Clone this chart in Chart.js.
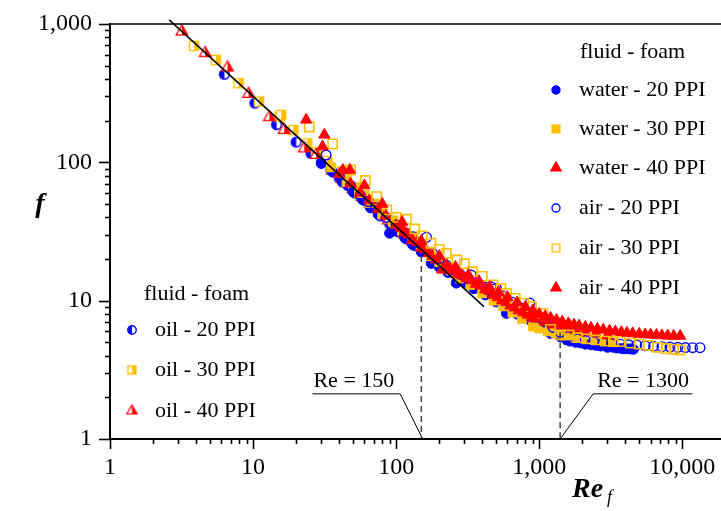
<!DOCTYPE html>
<html><head><meta charset="utf-8">
<script src="https://cdn.jsdelivr.net/npm/chart.js@4/dist/chart.umd.min.js"></script>
<style>html,body{margin:0;padding:0;background:#fff;}canvas{display:block;}</style>
</head><body>
<canvas id="c" width="721" height="511"></canvas>
<script>
// ---------- data (Re_f, f) ----------
const oil20 = [[6.3,433],[10.3,268],[14.6,187],[20,140],[25.4,116],[30,100],[35,88],[40,77],[46,68],[52,60],[60,53],[68,47],[78,41],[90,36],[103,31.5],[118,28],[135,25]];
const oil30 = [[3.87,695],[5.5,550],[7.92,373],[11,275],[15.3,214],[15.7,220],[19.1,171],[23.9,137],[28,118],[33,102],[39,86],[45,76],[52,66],[60,58],[70,50],[80,44],[95,38],[110,33],[128,29]];
const oil40 = [[3.18,881],[4.63,615],[6.63,484],[9.3,312],[13,212],[16.5,171],[22.8,126],[27.6,113],[36,87],[42,76],[50,64],[58,56],[66,50],[77,43],[88,38],[100,34],[115,30],[130,27]];
const water20 = [[30,98],[36,85],[42,72],[50,61],[58,54],[66,47],[75,42],[90,30.7],[100,32],[115,28.5],[130,25.5],[150,22.5],[176,18.6],[200,17.5],[230,16],[263,13.4],[300,13.5],[350,12.2],[420,11],[500,9.8],[590,8.1],[700,8],[850,7.3],[1000,6.6],[1200,5.8],[1400,5.5],[1553,5.2],[1650,5.1],[1800,5.0],[1950,4.95],[2100,4.85],[2300,4.8],[2500,4.75],[2700,4.7],[3000,4.6],[3300,4.6],[3500,4.55],[3800,4.5],[4000,4.5],[4300,4.48],[4550,4.45]];
const water30 = [[35,92],[45,72],[55,60],[65,51],[80,42],[95,37],[110,32],[130,28],[150,25],[175,21],[200,19],[240,16.5],[280,14.5],[330,13],[400,11.3],[480,10],[560,9.1],[650,8.2],[760,7.4],[907,6.5],[1000,6.3],[1150,6.0],[1300,5.8],[1500,5.6],[1750,5.45],[2000,5.3],[2400,5.2],[2800,5.1],[3300,5.0]];
const water40 = [[40,82],[48,70],[56,60],[65,53],[75,46],[85,41],[100,35],[108,33.5],[115,31],[122,30],[130,27.5],[140,26.5],[150,24],[160,23.5],[170,22],[180,21],[190,19.8],[210,16.7],[225,18.2],[240,17],[255,16.5],[270,15.6],[290,15.2],[310,14.5],[335,14],[360,13.2],[390,12.8],[420,12],[450,11.7],[480,11],[515,10.6],[550,10],[590,9.7],[630,9.2],[675,8.9],[720,8.5],[775,8.2],[830,7.9],[890,7.6],[950,7.4],[1100,7.0],[1250,6.7],[1400,6.5],[1600,6.3],[1800,6.1],[2100,5.95],[2500,5.8],[3000,5.6]];
const air20 = [[32.4,113],[40,80],[48,68],[56,58],[64,52],[72,47],[85,40],[100,35],[115,31],[131,29],[145,26],[163,28.7],[180,22],[200,20],[225,18],[250,16.8],[280,15.5],[310,14.6],[335,15.3],[370,13.5],[420,12.5],[460,12.6],[502,12.3],[560,10.8],[640,9.8],[720,9.0],[800,8.4],[860,9.6],[950,7.6],[1100,7.0],[1250,6.4],[1400,5.9],[1600,5.5],[1850,5.3],[2100,5.15],[2400,5.05],[2800,4.95],[3200,4.9],[3700,4.85],[4200,4.8],[4800,4.78],[5500,4.72],[6300,4.68],[7200,4.65],[8200,4.62],[9300,4.6],[10500,4.58],[11800,4.57],[13300,4.57]];
const air30 = [[24.7,180],[36,136],[48,88],[61,74],[73,56.5],[86,45.3],[100,40],[118,38.8],[135,33],[152,29.4],[175,26],[200,23.5],[224,22],[266,19.7],[300,18.5],[341,16.2],[400,15],[475,13],[540,12.2],[590,11.3],[680,10.4],[780,9.6],[883,9.05],[1060,8.1],[1200,6.2],[1395,5.65],[1620,5.65],[1850,5.4],[2150,5.3],[2500,5.2],[2900,5.1],[3300,5.05],[3666,5.06],[4330,4.93],[5000,4.85],[5800,4.75],[6700,4.6],[7700,4.5],[8700,4.45],[9660,4.4]];
const air40 = [[23.5,203],[30.6,130],[31.5,158],[42.4,88],[47.5,88],[60,68],[80,50],[110,37],[150,27],[200,21],[260,17.5],[320,15.3],[380,13.8],[450,12.5],[520,11.5],[600,10.6],[700,9.7],[800,9.0],[900,8.5],[1000,8.0],[1100,7.7],[1200,7.5],[1322,7.25],[1450,7.05],[1600,6.85],[1750,6.7],[1900,6.6],[2100,6.45],[2300,6.35],[2550,6.25],[2800,6.15],[3100,6.05],[3400,5.98],[3750,5.92],[4100,5.85],[4500,5.8],[5000,5.75],[5500,5.7],[6000,5.68],[6600,5.64],[7200,5.6],[7900,5.58],[8700,5.56],[9660,5.56]];
const fitLine = [[2.59,1071],[411,9.05]];
const dash150 = [[150,21],[150,1]];
const dash1300 = [[1400,5.9],[1400,1]];
const callout150 = [[26,2.12],[106.7,2.12],[153.5,1]];
const callout1300 = [[1400,1],[2382,2.12],[11780,2.12]];
const calloutLabels = ['Re = 150','Re = 1300'];
const xTickValues = [1,10,100,1000,10000];
const xTickLabels = ['1','10','100','1,000','10,000'];
const yTickValues = [1,10,100,1000];
const yTickLabels = ['1','10','100','1,000'];
const legendTitle = 'fluid - foam';
const legendTop = ['water - 20 PPI','water - 30 PPI','water - 40 PPI','air - 20 PPI','air - 30 PPI','air - 40 PPI'];
const legendBottom = ['oil - 20 PPI','oil - 30 PPI','oil - 40 PPI'];

const BLUE='#0000ff', GOLD='#ffc000', RED='#ff0000';
const FONT='"Liberation Serif","Times New Roman",serif';
const pts = a => a.map(p=>({x:p[0],y:p[1]}));

function halfMarker(shape, color, r, lw){
  const s = Math.ceil(2*r + 2*lw + 4);
  const c = document.createElement('canvas'); c.width = s; c.height = s;
  const g = c.getContext('2d'); const m = s/2;
  const path = () => { g.beginPath();
    if (shape==='circle') g.arc(m,m,r,0,2*Math.PI);
    else if (shape==='rect') g.rect(m-r,m-r,2*r,2*r);
    else { g.moveTo(m,m-r); g.lineTo(m+r*0.866,m+r*0.5); g.lineTo(m-r*0.866,m+r*0.5); g.closePath(); } };
  path(); g.fillStyle='#fff'; g.fill();
  g.save(); path(); g.clip(); g.fillStyle=color;
  if (shape==='circle') g.fillRect(0,0,m,s); else g.fillRect(m,0,s,s);
  g.restore();
  path(); g.strokeStyle=color; g.lineWidth=lw; g.stroke();
  return c;
}
const oilCircle = halfMarker('circle',BLUE,4.8,1.4);
const oilSquare = halfMarker('rect',GOLD,4.6,1.4);
const oilTri = halfMarker('tri',RED,6.8,1.2);
const oilCircleL = halfMarker('circle',BLUE,4.2,1.4);
const oilSquareL = halfMarker('rect',GOLD,4,1.4);
const oilTriL = halfMarker('tri',RED,6,1.2);

const lineDs = (data, color, width, dash) => ({type:'scatter', data:pts(data), showLine:true, borderColor:color, borderWidth:width, borderDash:dash||[], pointRadius:0, fill:false});

const datasets = [
  lineDs(fitLine,'#000',1.5),
  lineDs(dash150,'#444',1.5,[6,4]),
  lineDs(dash1300,'#444',1.5,[6,4]),
  lineDs(callout150,'#000',1),
  lineDs(callout1300,'#000',1),
  {label:'air - 40 PPI', data:pts(air40), pointStyle:'triangle', pointRadius:6.5, backgroundColor:RED, borderColor:RED, borderWidth:1},
  {label:'air - 30 PPI', data:pts(air30), pointStyle:'rect', pointRadius:6.5, backgroundColor:'rgba(0,0,0,0)', borderColor:GOLD, borderWidth:1.6},
  {label:'water - 40 PPI', data:pts(water40), pointStyle:'triangle', pointRadius:6.5, backgroundColor:RED, borderColor:RED, borderWidth:1},
  {label:'air - 20 PPI', data:pts(air20), pointStyle:'circle', pointRadius:4.8, backgroundColor:'rgba(0,0,0,0)', borderColor:BLUE, borderWidth:1.4},
  {label:'water - 30 PPI', data:pts(water30), pointStyle:'rect', pointRadius:6.3, backgroundColor:GOLD, borderColor:GOLD, borderWidth:1},
  {label:'water - 20 PPI', data:pts(water20), pointStyle:'circle', pointRadius:5, backgroundColor:BLUE, borderColor:BLUE, borderWidth:1},
  {label:'oil - 40 PPI', data:pts(oil40), pointStyle:oilTri, pointRadius:6},
  {label:'oil - 30 PPI', data:pts(oil30), pointStyle:oilSquare, pointRadius:6},
  {label:'oil - 20 PPI', data:pts(oil20), pointStyle:oilCircle, pointRadius:6},
];

function drawLine(ctx,x1,y1,x2,y2){ctx.beginPath();ctx.moveTo(x1,y1);ctx.lineTo(x2,y2);ctx.stroke();}

const axesPlugin = {
  id:'axesDraw',
  afterDatasetsDraw(chart){
    const {ctx, chartArea:a, scales:{x,y}} = chart;
    ctx.save();
    ctx.strokeStyle='#000';
    ctx.lineWidth=1.5; drawLine(ctx,a.left,a.top,a.right,a.top);
    ctx.lineWidth=2;
    drawLine(ctx,a.left,a.top-1,a.left,a.bottom+1);
    drawLine(ctx,a.left-1,a.bottom,a.right,a.bottom);
    ctx.lineWidth=1.6;
    for (const v0 of xTickValues){ for (let m=1;m<=9;m++){ const v=v0*m; if (v> x.max) break;
      const px=Math.round(x.getPixelForValue(v))+0.5; drawLine(ctx,px,a.bottom,px,a.bottom+(m===1?10:5)); } }
    for (const v0 of yTickValues){ for (let m=1;m<=9;m++){ const v=v0*m; if (v> y.max+1e-9) break;
      const py=Math.round(y.getPixelForValue(v))+0.5; drawLine(ctx,a.left,py,a.left-(m===1?11:5),py); } }
    ctx.fillStyle='#000'; ctx.font='24px '+FONT;
    ctx.textAlign='center'; ctx.textBaseline='middle';
    xTickValues.forEach((v,i)=>ctx.fillText(xTickLabels[i], x.getPixelForValue(v), a.bottom+29));
    ctx.textAlign='right';
    yTickValues.forEach((v,i)=>ctx.fillText(yTickLabels[i], a.left-18, y.getPixelForValue(v)));
    // axis titles
    ctx.font='italic bold 28px '+FONT; ctx.textAlign='center';
    ctx.fillText('f', 40, 205);
    ctx.textAlign='left'; ctx.textBaseline='alphabetic';
    ctx.fillText('Re', 572, 497);
    ctx.font='italic 18px '+FONT; ctx.fillText('f', 607, 503);
    // callout labels
    ctx.font='22px '+FONT; ctx.textBaseline='middle'; ctx.textAlign='left';
    ctx.fillText(calloutLabels[0], x.getPixelForValue(callout150[0][0])+1, y.getPixelForValue(callout150[0][1])-13);
    ctx.fillText(calloutLabels[1], x.getPixelForValue(callout1300[1][0])+4, y.getPixelForValue(callout1300[1][1])-13);
    // legends
    const H = Chart.helpers;
    ctx.font='22px '+FONT;
    ctx.fillText(legendTitle, 580, 52);
    const topY=[90,129,168,208,248,288];
    const topStyle={ 'water - 20 PPI':['circle',4,BLUE,BLUE], 'water - 30 PPI':['rect',5.5,GOLD,GOLD], 'water - 40 PPI':['triangle',5.8,RED,RED],
      'air - 20 PPI':['circle',4,null,BLUE], 'air - 30 PPI':['rect',5.5,null,GOLD], 'air - 40 PPI':['triangle',5.8,RED,RED]};
    legendTop.forEach((t,i)=>{ const s=topStyle[t];
      ctx.fillStyle=s[2]||'rgba(0,0,0,0)'; ctx.strokeStyle=s[3]; ctx.lineWidth=1.4;
      H.drawPoint(ctx,{pointStyle:s[0],radius:s[1],borderWidth:1.4,rotation:0},556,topY[i]);
      ctx.fillStyle='#000'; ctx.fillText(t,579,topY[i]); });
    ctx.fillText(legendTitle, 144, 294);
    const botY=[330,370,411]; const botImg=[oilCircleL,oilSquareL,oilTriL];
    legendBottom.forEach((t,i)=>{ H.drawPoint(ctx,{pointStyle:botImg[i],radius:5,rotation:0},132,botY[i]);
      ctx.fillStyle='#000'; ctx.fillText(t,155,botY[i]); });
    ctx.restore();
  }
};

new Chart(document.getElementById('c'), {
  type:'scatter',
  data:{datasets},
  options:{
    responsive:false, animation:false, devicePixelRatio:1,
    layout:{autoPadding:false, padding:{left:110,right:0,top:24,bottom:72}},
    plugins:{legend:{display:false}, tooltip:{enabled:false}},
    elements:{line:{tension:0}},
    clip:false,
    scales:{
      x:{type:'logarithmic', min:1, max:18640, display:false},
      y:{type:'logarithmic', min:1, max:1000, display:false}
    }
  },
  plugins:[axesPlugin]
});
</script>
</body></html>
